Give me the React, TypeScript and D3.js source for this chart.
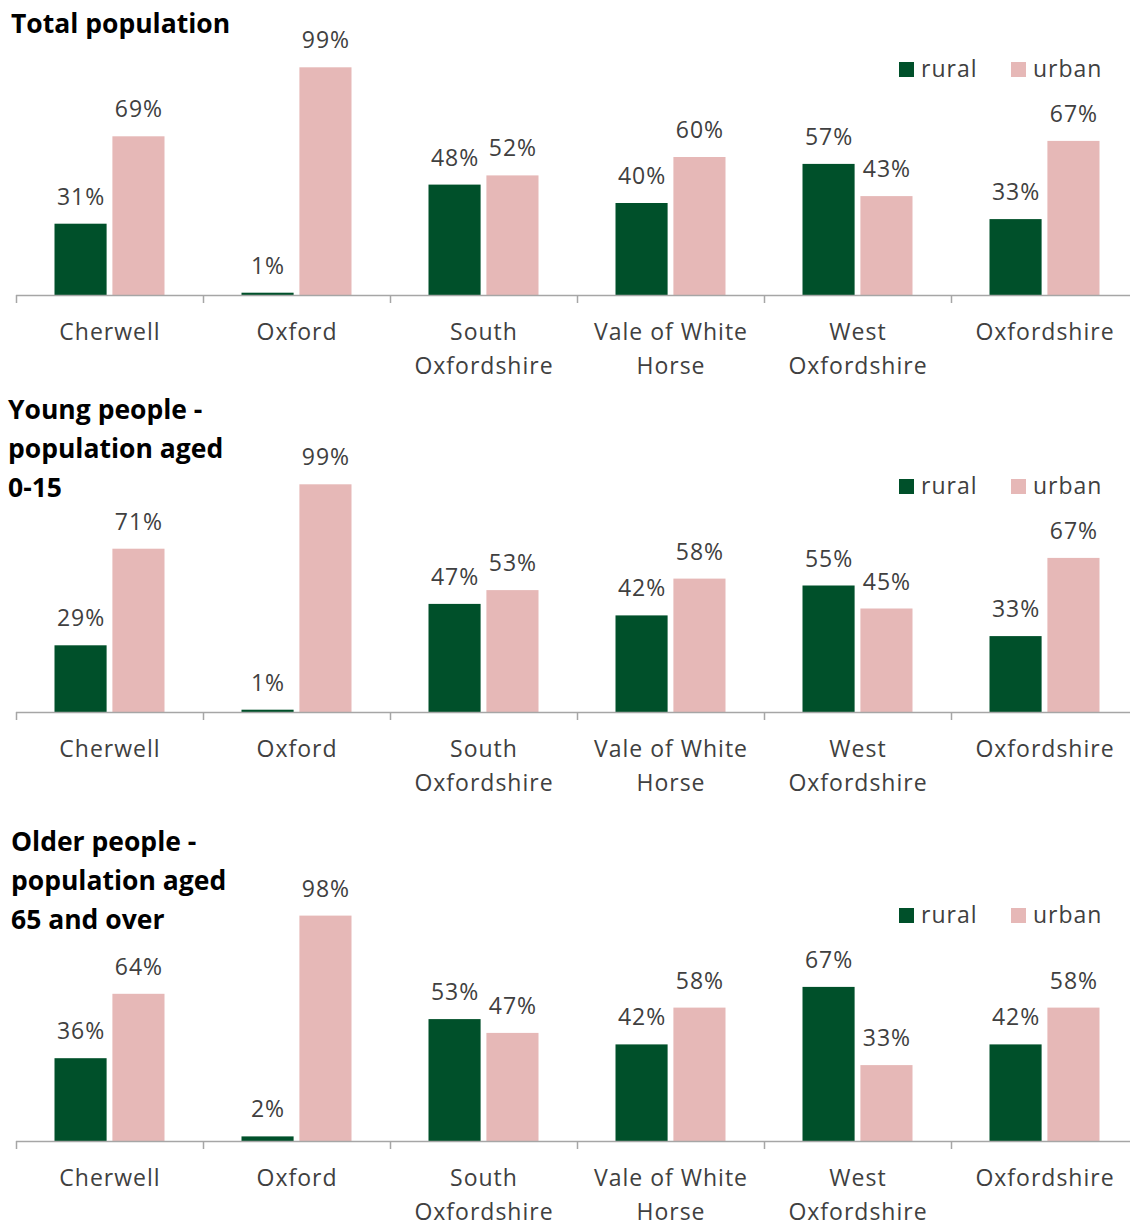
import React, { useEffect, useRef } from 'react';
import * as d3 from 'd3';

const districts = ['Cherwell', 'Oxford', 'South Oxfordshire', 'Vale of White Horse', 'West Oxfordshire', 'Oxfordshire'];
const districtLines = [['Cherwell'], ['Oxford'], ['South', 'Oxfordshire'], ['Vale of White', 'Horse'], ['West', 'Oxfordshire'], ['Oxfordshire']];
const seriesNames = ['rural', 'urban'];

const totalRural = [31, 1, 48, 40, 57, 33];
const totalUrban = [69, 99, 52, 60, 43, 67];
const youngRural = [29, 1, 47, 42, 55, 33];
const youngUrban = [71, 99, 53, 58, 45, 67];
const olderRural = [36, 2, 53, 42, 67, 42];
const olderUrban = [64, 98, 47, 58, 33, 58];

const titles = [
  ['Total population'],
  ['Young people -', 'population aged', '0-15'],
  ['Older people -', 'population aged', '65 and over'],
];

const W = 1130;
const H = 1223;
const GREEN = '#00502a';
const PINK = '#e6b8b7';
const FONT = "'Open Sans', sans-serif";

const App: React.FC = () => {
  const svgRef = useRef<SVGSVGElement>(null);

  useEffect(() => {
    if (!svgRef.current) return;
    const svg = d3.select(svgRef.current);
    svg.selectAll('*').remove();

    const panels = [
      { rural: totalRural, urban: totalUrban, base: 295, titleX: 11, titleY: 33 },
      { rural: youngRural, urban: youngUrban, base: 712, titleX: 8, titleY: 419 },
      { rural: olderRural, urban: olderUrban, base: 1141, titleX: 11, titleY: 851 },
    ];

    const x = d3.scaleBand<string>().domain(districts).range([16, 16 + 6 * 187]);
    const inner = d3.scaleBand<string>().domain(seriesNames).range([-55, 55]).paddingInner(0.1);
    const color = d3.scaleOrdinal<string, string>().domain(seriesNames).range([GREEN, PINK]);

    const label = (sel: any) => sel
      .style('font-family', FONT)
      .style('font-size', '23px')
      .style('letter-spacing', '1px')
      .attr('fill', '#404040');

    panels.forEach((p, pi) => {
      const y = d3.scaleLinear().domain([0, 100]).range([p.base, p.base - 230]);
      const g = svg.append('g');

      // title
      const t = g.append('text')
        .attr('x', p.titleX)
        .attr('y', p.titleY)
        .style('font-family', FONT)
        .style('font-weight', 'bold')
        .style('font-size', '26.5px')
        .attr('fill', '#000');
      titles[pi].forEach((line, i) => {
        t.append('tspan').attr('x', p.titleX).attr('dy', i === 0 ? 0 : 39).text(line);
      });

      const rows = districts.map((d, i) => ({ district: d, rural: p.rural[i], urban: p.urban[i] }));

      const grp = g.selectAll('g.cat')
        .data(rows)
        .join('g')
        .attr('transform', d => `translate(${x(d.district)! + x.bandwidth() / 2},0)`);

      seriesNames.forEach(s => {
        grp.append('rect')
          .attr('x', inner(s)!)
          .attr('width', inner.bandwidth())
          .attr('y', d => y((d as any)[s]))
          .attr('height', d => p.base - y((d as any)[s]))
          .attr('fill', color(s));
        grp.append('text')
          .attr('x', inner(s)! + inner.bandwidth() / 2 + 0.5)
          .attr('y', d => y((d as any)[s]) - 19)
          .attr('text-anchor', 'middle')
          .call(label)
          .text(d => `${(d as any)[s]}%`);
      });

      // axis
      g.append('line')
        .attr('x1', 16).attr('x2', W)
        .attr('y1', p.base + 0.5).attr('y2', p.base + 0.5)
        .attr('stroke', '#a6a6a6').attr('stroke-width', 1.5);
      g.selectAll('line.tick')
        .data(districts)
        .join('line')
        .attr('x1', d => x(d)! + 0.5).attr('x2', d => x(d)! + 0.5)
        .attr('y1', p.base).attr('y2', p.base + 8)
        .attr('stroke', '#a6a6a6').attr('stroke-width', 1.5);

      g.selectAll('text.cat')
        .data(districts)
        .join('text')
        .attr('text-anchor', 'middle')
        .call(label)
        .each(function (d, i) {
          const el = d3.select(this);
          const cx = x(d)! + x.bandwidth() / 2 + 0.5;
          districtLines[i].forEach((line, li) => {
            el.append('tspan').attr('x', cx).attr('y', p.base + 45 + li * 34).text(line);
          });
        });

      // legend
      const leg = g.append('g').attr('transform', `translate(0,${p.base - 226})`);
      const legX = [899, 1011];
      seriesNames.forEach((s, i) => {
        leg.append('rect').attr('x', legX[i]).attr('y', -7).attr('width', 15).attr('height', 15).attr('fill', color(s));
        leg.append('text')
          .attr('x', legX[i] + 22).attr('y', 8)
          .call(label)
          .text(s);
      });
    });
  }, []);

  return (
    <svg ref={svgRef} width={W} height={H} style={{ position: 'absolute', left: 0, top: 0, background: '#fff' }} />
  );
};

export default App;
